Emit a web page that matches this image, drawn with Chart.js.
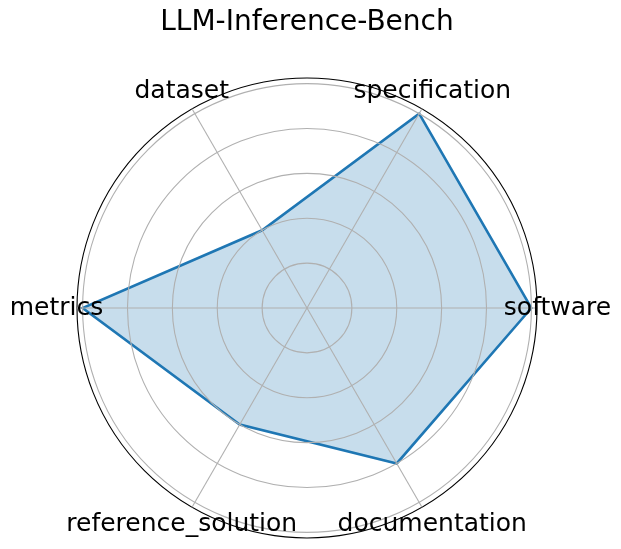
<!DOCTYPE html>
<html>
<head>
<meta charset="utf-8">
<script src="https://cdn.jsdelivr.net/npm/chart.js@4"></script>
<style>
  html, body { margin: 0; padding: 0; background: #fff; }
  canvas { display: block; }
</style>
</head>
<body>
<canvas id="c" width="621" height="549"></canvas>
<script>
// Categories in the original (counter-clockwise from 0°) order
const categories = ['software', 'specification', 'dataset', 'metrics', 'reference_solution', 'documentation'];
const scores = [1.0, 1.0, 0.4, 1.0, 0.6, 0.8];
const gridTicks = [0.2, 0.4, 0.6, 0.8, 1.0];
const rMax = 1.025;
const title = 'LLM-Inference-Bench';

// Chart.js goes clockwise; reorder so the layout matches (software at right, CCW)
const order = [0, 5, 4, 3, 2, 1];
const labels = order.map(i => categories[i]);
const values = order.map(i => scores[i]);

const FONT = '"DejaVu Sans", "Liberation Sans", sans-serif';

// Draw grid between the fill and the outline (matplotlib z-order)
const gridOrderPlugin = {
  id: 'gridOrder',
  beforeDraw(chart) {
    const s = chart.scales.r;
    if (!s._origDrawGrid) s._origDrawGrid = s.drawGrid;
    s.drawGrid = function () {};
  },
  afterDatasetDraw(chart, args) {
    if (args.index === 0) {
      const s = chart.scales.r;
      s._origDrawGrid.call(s);
    }
  }
};

const labelPlugin = {
  id: 'mplLabels',
  afterDraw(chart) {
    const s = chart.scales.r;
    const ctx = chart.ctx;
    ctx.save();
    ctx.font = '25px ' + FONT;
    ctx.fillStyle = '#000';
    ctx.textAlign = 'center';
    ctx.textBaseline = 'alphabetic';
    const d = s.drawingArea + 20.5;
    chart.data.labels.forEach((lab, i) => {
      const p = s.getPointPosition(i, d);
      ctx.fillText(lab, p.x, p.y + 6.5);
    });
    ctx.restore();
  }
};

new Chart(document.getElementById('c'), {
  type: 'radar',
  data: {
    labels: labels,
    datasets: [{
      data: values,
      borderColor: 'rgba(0,0,0,0)',
      backgroundColor: 'rgba(31,119,180,0.25)',
      borderWidth: 0,
      pointRadius: 0,
      pointHoverRadius: 0,
      fill: true,
      tension: 0
    }, {
      data: values,
      borderColor: '#1f77b4',
      backgroundColor: 'rgba(0,0,0,0)',
      borderWidth: 2.6,
      pointRadius: 0,
      pointHoverRadius: 0,
      fill: false,
      tension: 0
    }]
  },
  options: {
    responsive: false,
    animation: false,
    events: [],
    layout: { padding: { left: 77, right: 84, top: 0, bottom: 11 } },
    plugins: {
      legend: { display: false },
      tooltip: { enabled: false },
      title: {
        display: true,
        text: title,
        color: '#000',
        font: { family: FONT, size: 28, weight: 'normal' },
        padding: { top: 5.5, bottom: 38.9 }
      }
    },
    scales: {
      r: {
        min: 0,
        max: rMax,
        startAngle: 90,
        afterBuildTicks(scale) {
          scale.ticks = [0, ...gridTicks, rMax].map(v => ({ value: v }));
        },
        ticks: { display: false },
        pointLabels: { display: false },
        grid: {
          circular: true,
          color: (ctx) => (ctx.tick && ctx.tick.value === rMax) ? '#000' : '#b0b0b0',
          lineWidth: 1.1
        },
        angleLines: { display: true, color: '#b0b0b0', lineWidth: 1.1 }
      }
    }
  },
  plugins: [gridOrderPlugin, labelPlugin]
});
</script>
</body>
</html>
